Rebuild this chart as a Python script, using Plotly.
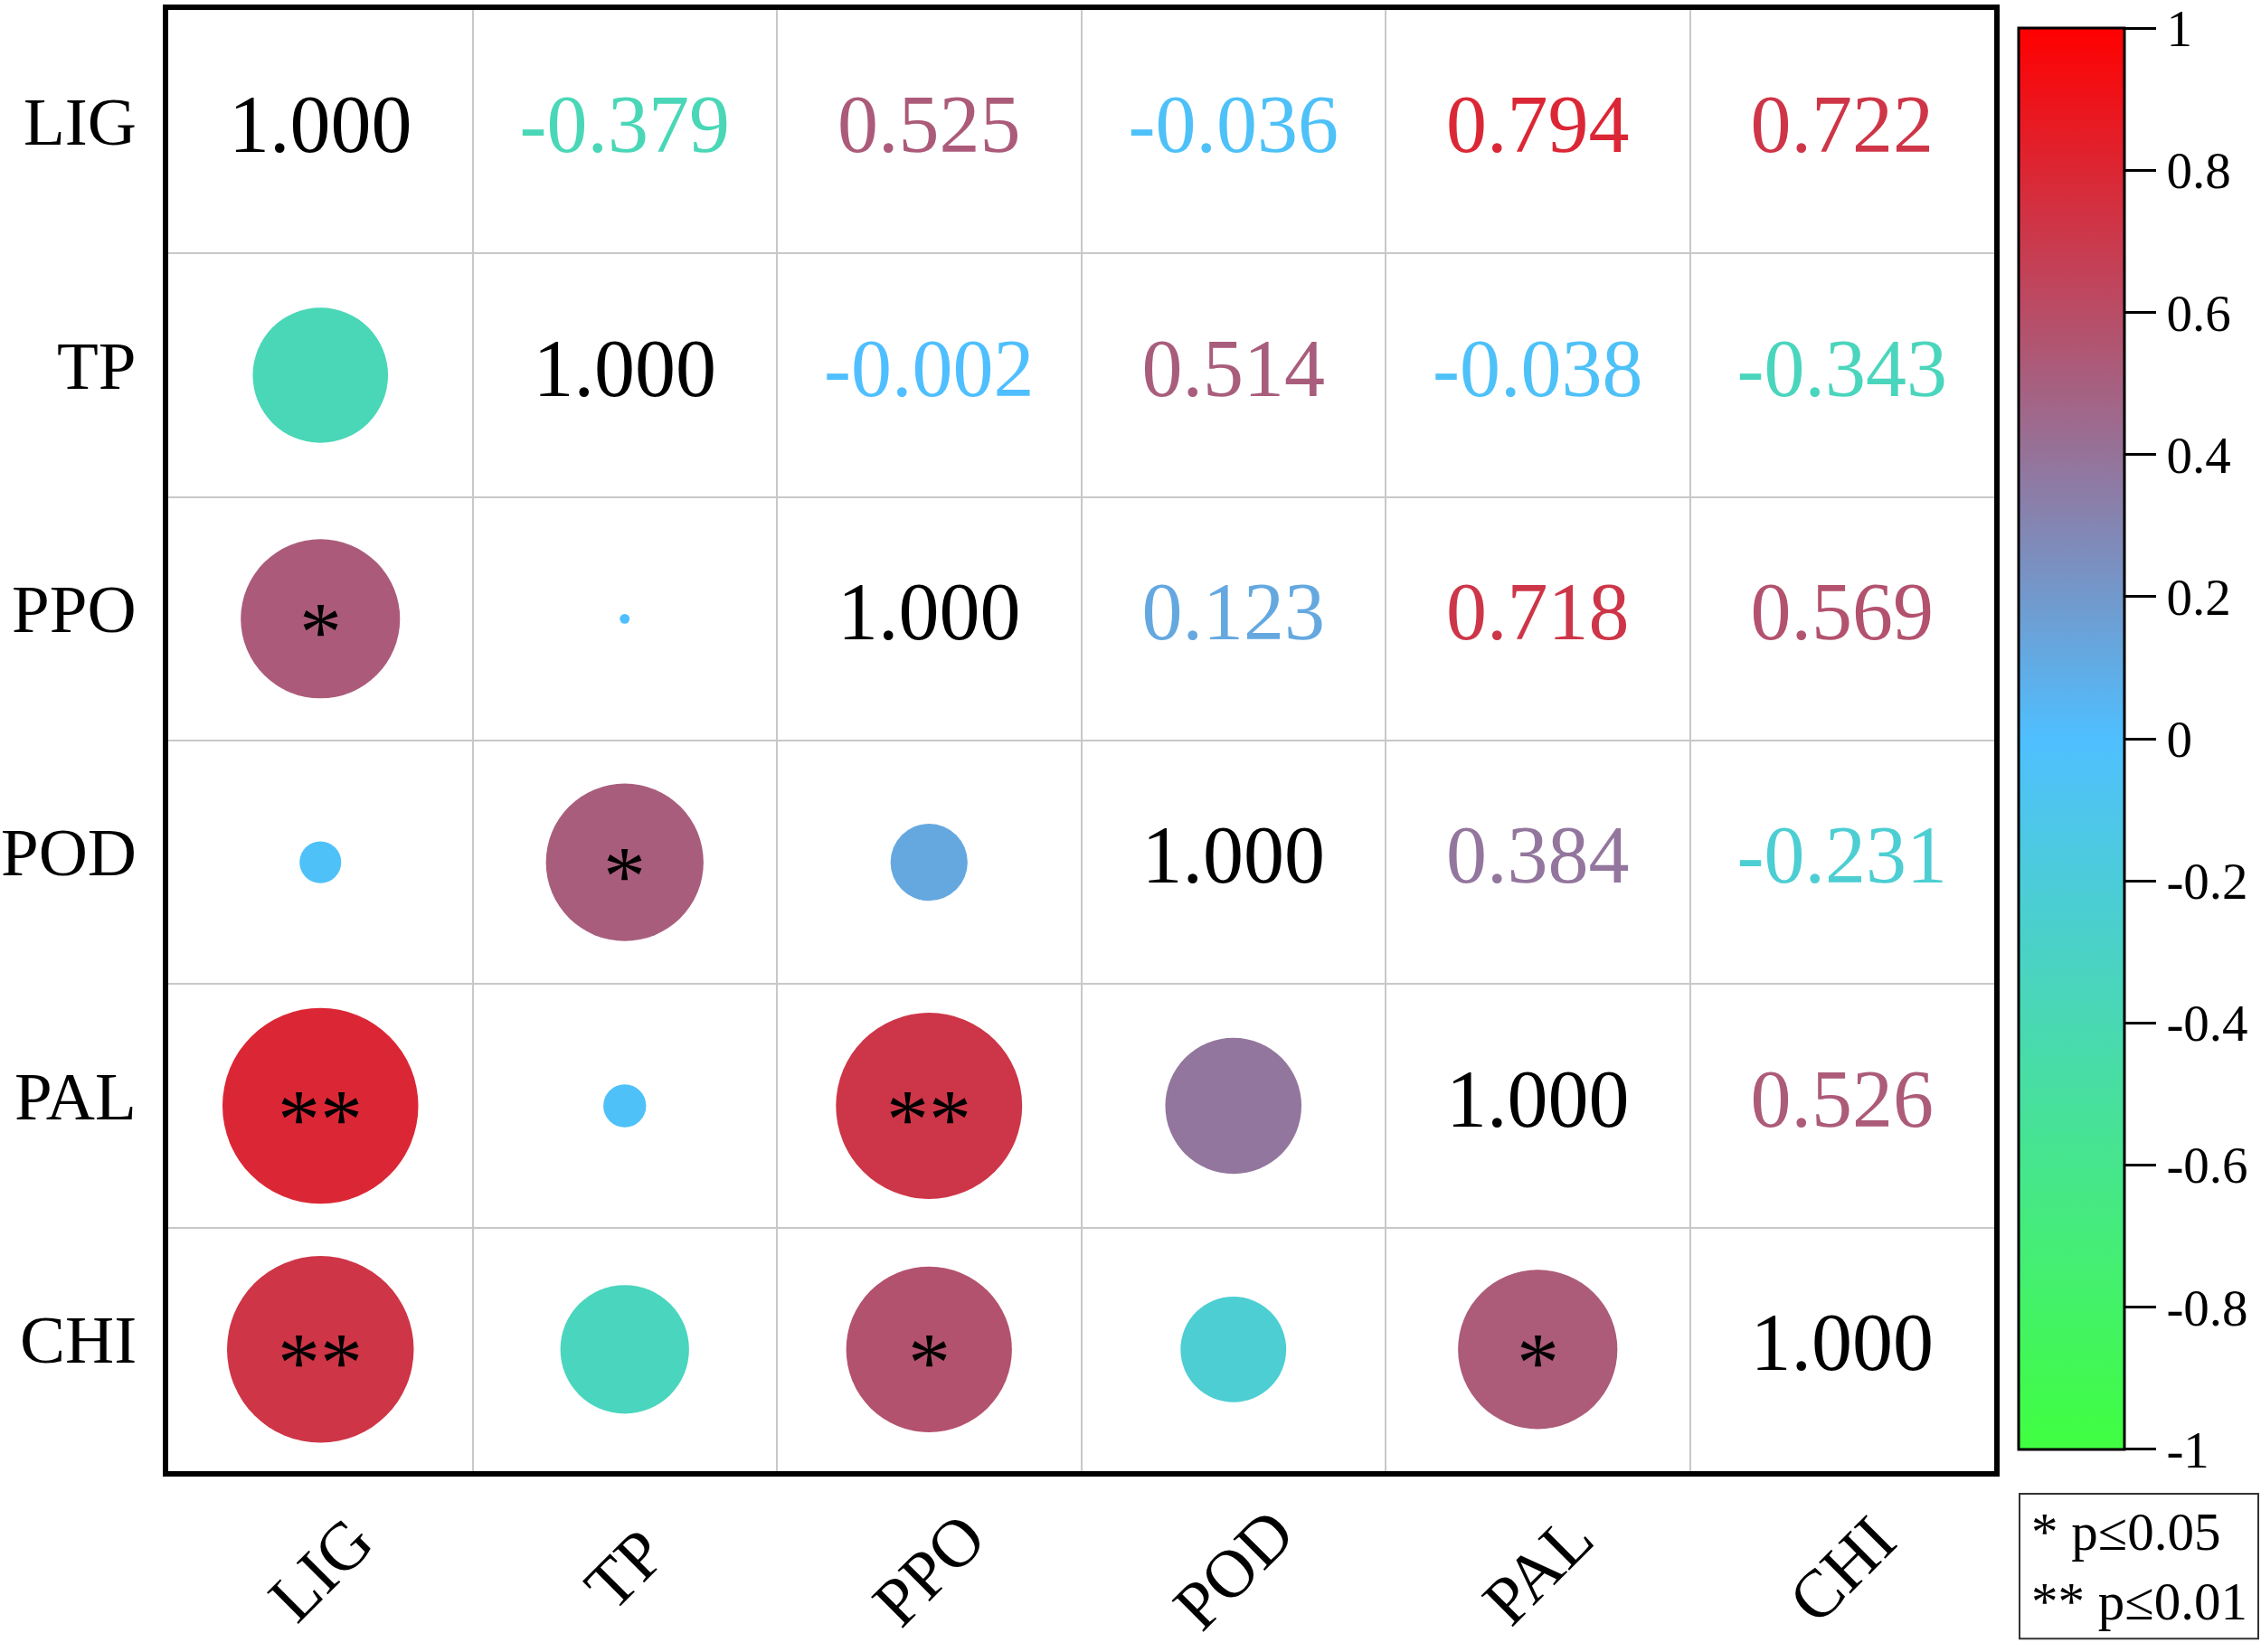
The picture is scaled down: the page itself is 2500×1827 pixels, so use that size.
import numpy as np
import plotly.graph_objects as go
from plotly.colors import sample_colorscale

labels = ["LIG", "TP", "PPO", "POD", "PAL", "CHI"]
r_LIG = [1.000, -0.379, 0.525, -0.036, 0.794, 0.722]
r_TP = [-0.379, 1.000, -0.002, 0.514, -0.038, -0.343]
r_PPO = [0.525, -0.002, 1.000, 0.123, 0.718, 0.569]
r_POD = [-0.036, 0.514, 0.123, 1.000, 0.384, -0.231]
r_PAL = [0.794, -0.038, 0.718, 0.384, 1.000, 0.526]
r_CHI = [0.722, -0.343, 0.569, -0.231, 0.526, 1.000]
# significance marks (lower triangle): (row, col) -> mark
sig_rows = ["PPO", "POD", "PAL", "PAL", "CHI", "CHI", "CHI"]
sig_cols = ["LIG", "TP", "LIG", "PPO", "LIG", "PPO", "PAL"]
sig_marks = ["*", "*", "**", "**", "**", "*", "*"]
cbar_vals = [-1, -0.8, -0.6, -0.4, -0.2, 0, 0.2, 0.4, 0.6, 0.8, 1]
cbar_text = ["-1", "-0.8", "-0.6", "-0.4", "-0.2", "0", "0.2", "0.4", "0.6", "0.8", "1"]
legend_lines = ["* p\u22640.05", "** p\u22640.01"]

R = np.array([r_LIG, r_TP, r_PPO, r_POD, r_PAL, r_CHI])
n = len(labels)

colorscale = [[0.0, "#40FF40"], [0.5, "#4FBFFF"], [1.0, "#FF0000"]]
FONT = "Liberation Serif, Times New Roman, serif"

W, H = 2500, 1827
ML, MR, MT, MB = 186, 295, 5, 200
pw = W - ML - MR
ph = H - MT - MB


def px_x(p):
    return (p - ML) / pw


def px_y(p):
    return (H - MB - p) / ph


# circles in lower triangle
cx, cy, cv = [], [], []
for i in range(n):
    for j in range(n):
        if i > j:
            cx.append(j); cy.append(i); cv.append(R[i, j])

# texts in upper triangle + diagonal
tx, ty, tt, tc = [], [], [], []
for i in range(n):
    for j in range(n):
        if j >= i:
            v = R[i, j]
            tx.append(j); ty.append(i); tt.append(f"{v:.3f}")
            if i == j:
                tc.append("black")
            else:
                tc.append(sample_colorscale(colorscale, [(v + 1) / 2])[0])

k = 243.0  # diameter at |r| = 1 in px
eps = 0.0003
fig = go.Figure()
fig.add_trace(go.Scatter(
    x=cx, y=cy, mode="markers",
    marker=dict(
        color=cv, cmin=-1 - eps, cmax=1 + eps, colorscale=colorscale,
        size=np.abs(cv), sizemode="area", sizeref=2.0 / k ** 2,
        line=dict(width=0), opacity=1,
        showscale=True,
        colorbar=dict(
            x=px_x(2232), xanchor="left", xpad=0,
            y=px_y(814), yanchor="middle", ypad=0,
            len=1578 / ph, lenmode="fraction",
            thickness=117, outlinewidth=3, outlinecolor="black",
            tickmode="array", tickvals=cbar_vals, ticktext=cbar_text,
            ticks="outside", ticklen=34, tickwidth=3, tickcolor="black",
            tickfont=dict(family=FONT, size=57, color="black"),
        ),
    ),
    hoverinfo="skip", showlegend=False,
))
fig.add_trace(go.Scatter(
    x=tx, y=ty, mode="text", text=tt,
    textposition="middle center",
    textfont=dict(family=FONT, size=90, color=tc),
    hoverinfo="skip", showlegend=False,
))

annotations = []
for rname, cname, m in zip(sig_rows, sig_cols, sig_marks):
    annotations.append(dict(
        x=labels.index(cname), y=labels.index(rname), xref="x", yref="y",
        text=m, showarrow=False, yshift=-14,
        font=dict(family=FONT, size=94, color="black"),
    ))
for idx, lab in enumerate(labels):
    # row labels
    annotations.append(dict(
        x=px_x(153), y=idx, xref="paper", yref="y",
        xanchor="right", yanchor="middle", text=lab, showarrow=False,
        yshift=11,
        font=dict(family=FONT, size=75, color="black"),
    ))
    # column labels
    annotations.append(dict(
        x=idx, y=px_y(1736), xref="x", yref="paper",
        xanchor="center", yanchor="middle", text=lab, showarrow=False,
        textangle=-45,
        font=dict(family=FONT, size=75, color="black"),
    ))
# significance legend box
annotations.append(dict(
    x=px_x(2244), y=px_y(1733), xref="paper", yref="paper",
    xanchor="left", yanchor="middle", align="left",
    text="<br>".join(legend_lines), showarrow=False,
    font=dict(family=FONT, size=59, color="black"),
))
shapes = [dict(
    type="rect", xref="paper", yref="paper",
    x0=px_x(2233), x1=px_x(2497), y0=px_y(1813), y1=px_y(1652),
    line=dict(color="#333333", width=2), fillcolor="rgba(0,0,0,0)",
    layer="above",
)]

bounds = list(np.arange(n + 1) - 0.5)
fig.update_layout(
    width=W, height=H,
    margin=dict(l=ML, r=MR, t=MT, b=MB, pad=0),
    paper_bgcolor="white", plot_bgcolor="white",
    annotations=annotations, shapes=shapes,
    xaxis=dict(range=[-0.5, n - 0.5], tickmode="array", tickvals=bounds,
               showticklabels=False, ticks="", showgrid=True,
               gridcolor="#C8C8C8", gridwidth=2, zeroline=False,
               showline=True, mirror=True, linecolor="black", linewidth=6),
    yaxis=dict(range=[n - 0.5, -0.5], tickmode="array", tickvals=bounds,
               showticklabels=False, ticks="", showgrid=True,
               gridcolor="#C8C8C8", gridwidth=2, zeroline=False,
               showline=True, mirror=True, linecolor="black", linewidth=6),
)

fig.write_html("out.html", config={"displayModeBar": False},
               post_script="document.body.style.margin='0px';")
